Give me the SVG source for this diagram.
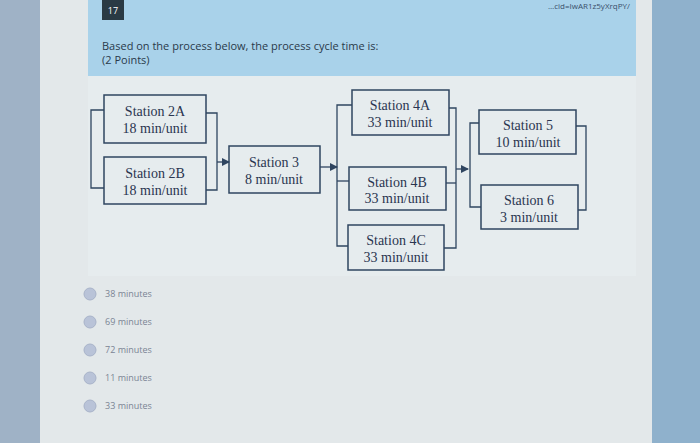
<svg xmlns="http://www.w3.org/2000/svg" width="700" height="443" viewBox="0 0 700 443">
<style>
.b{fill:none;stroke:#2f4560;stroke-width:1.5}
.c{fill:none;stroke:#2f4560;stroke-width:1.3}
.t{font-family:"Liberation Serif",serif;font-size:14px;fill:#2a3550;text-anchor:middle}
.o{font-family:"Open Sans",sans-serif;font-size:9px;fill:#7a8494}
.r{fill:#b9c3d8;stroke:#a8b3c9}
</style>
<defs><marker id="a" markerWidth="8" markerHeight="8" refX="7" refY="4" orient="auto" markerUnits="userSpaceOnUse"><path d="M0,0L8,4L0,8z" fill="#2f4560"/></marker></defs>
<rect width="700" height="443" fill="#9fb2c6"/>
<rect x="40" y="0" width="612" height="443" fill="#e3e8ea"/>
<rect x="88" y="0" width="548" height="76" fill="#a9d2ea"/>
<rect x="88" y="76" width="548" height="200" fill="#e6ecee"/>
<rect x="652" y="0" width="48" height="443" fill="#8fb1cc"/>
<rect x="102" y="0" width="22" height="20" fill="#2a3a44"/>
<text x="113" y="14" font-family="Open Sans,sans-serif" font-size="9" fill="#fff" text-anchor="middle">17</text>
<text x="548" y="9" font-family="Open Sans,sans-serif" font-size="8" fill="#3a4f6a">…cid=IwAR1z5yXrqPY/</text>
<text x="102" y="50" font-family="Open Sans,sans-serif" font-size="11" fill="#2a3a4a">Based on the process below, the process cycle time is:</text>
<text x="102" y="64" font-family="Open Sans,sans-serif" font-size="11" fill="#2a3a4a">(2 Points)</text>
<g id="connectors">
<path class="c" d="M104,110H91V188H104"/>
<path class="c" d="M206,113H217V190H206"/>
<path class="c" d="M217,162H229" marker-end="url(#a)"/>
<path class="c" d="M320,167H337" marker-end="url(#a)"/>
<path class="c" d="M352,105H337V246H348"/>
<path class="c" d="M449,108H456V248H444"/>
<path class="c" d="M446,183H456"/>
<path class="c" d="M337,181H349"/>
<path class="c" d="M456,169H468" marker-end="url(#a)"/>
<path class="c" d="M479,123H470V207H481"/>
<path class="c" d="M576,126H586V210H578"/>
</g>
<g id="s2a"><rect class="b" x="104" y="95" width="102" height="48"/><text class="t" x="155" y="116">Station 2A</text><text class="t" x="155" y="133">18 min/unit</text></g>
<g id="s2b"><rect class="b" x="104" y="157" width="102" height="47"/><text class="t" x="155" y="178">Station 2B</text><text class="t" x="155" y="195">18 min/unit</text></g>
<g id="s3"><rect class="b" x="229" y="146" width="91" height="47"/><text class="t" x="274" y="167">Station 3</text><text class="t" x="274" y="184">8 min/unit</text></g>
<g id="s4a"><rect class="b" x="352" y="90" width="97" height="45"/><text class="t" x="400" y="110">Station 4A</text><text class="t" x="400" y="127">33 min/unit</text></g>
<g id="s4b"><rect class="b" x="349" y="167" width="97" height="43"/><text class="t" x="397" y="187">Station 4B</text><text class="t" x="397" y="203">33 min/unit</text></g>
<g id="s4c"><rect class="b" x="348" y="225" width="96" height="45"/><text class="t" x="396" y="245">Station 4C</text><text class="t" x="396" y="262">33 min/unit</text></g>
<g id="s5"><rect class="b" x="479" y="110" width="97" height="44"/><text class="t" x="528" y="130">Station 5</text><text class="t" x="528" y="147">10 min/unit</text></g>
<g id="s6"><rect class="b" x="481" y="185" width="97" height="44"/><text class="t" x="529" y="205">Station 6</text><text class="t" x="529" y="222">3 min/unit</text></g>
<g id="options">
<circle class="r" cx="90" cy="294" r="6"/><text class="o" x="105" y="297">38 minutes</text>
<circle class="r" cx="90" cy="322" r="6"/><text class="o" x="105" y="325">69 minutes</text>
<circle class="r" cx="90" cy="350" r="6"/><text class="o" x="105" y="353">72 minutes</text>
<circle class="r" cx="90" cy="378" r="6"/><text class="o" x="105" y="381">11 minutes</text>
<circle class="r" cx="90" cy="406" r="6"/><text class="o" x="105" y="409">33 minutes</text>
</g>
</svg>
